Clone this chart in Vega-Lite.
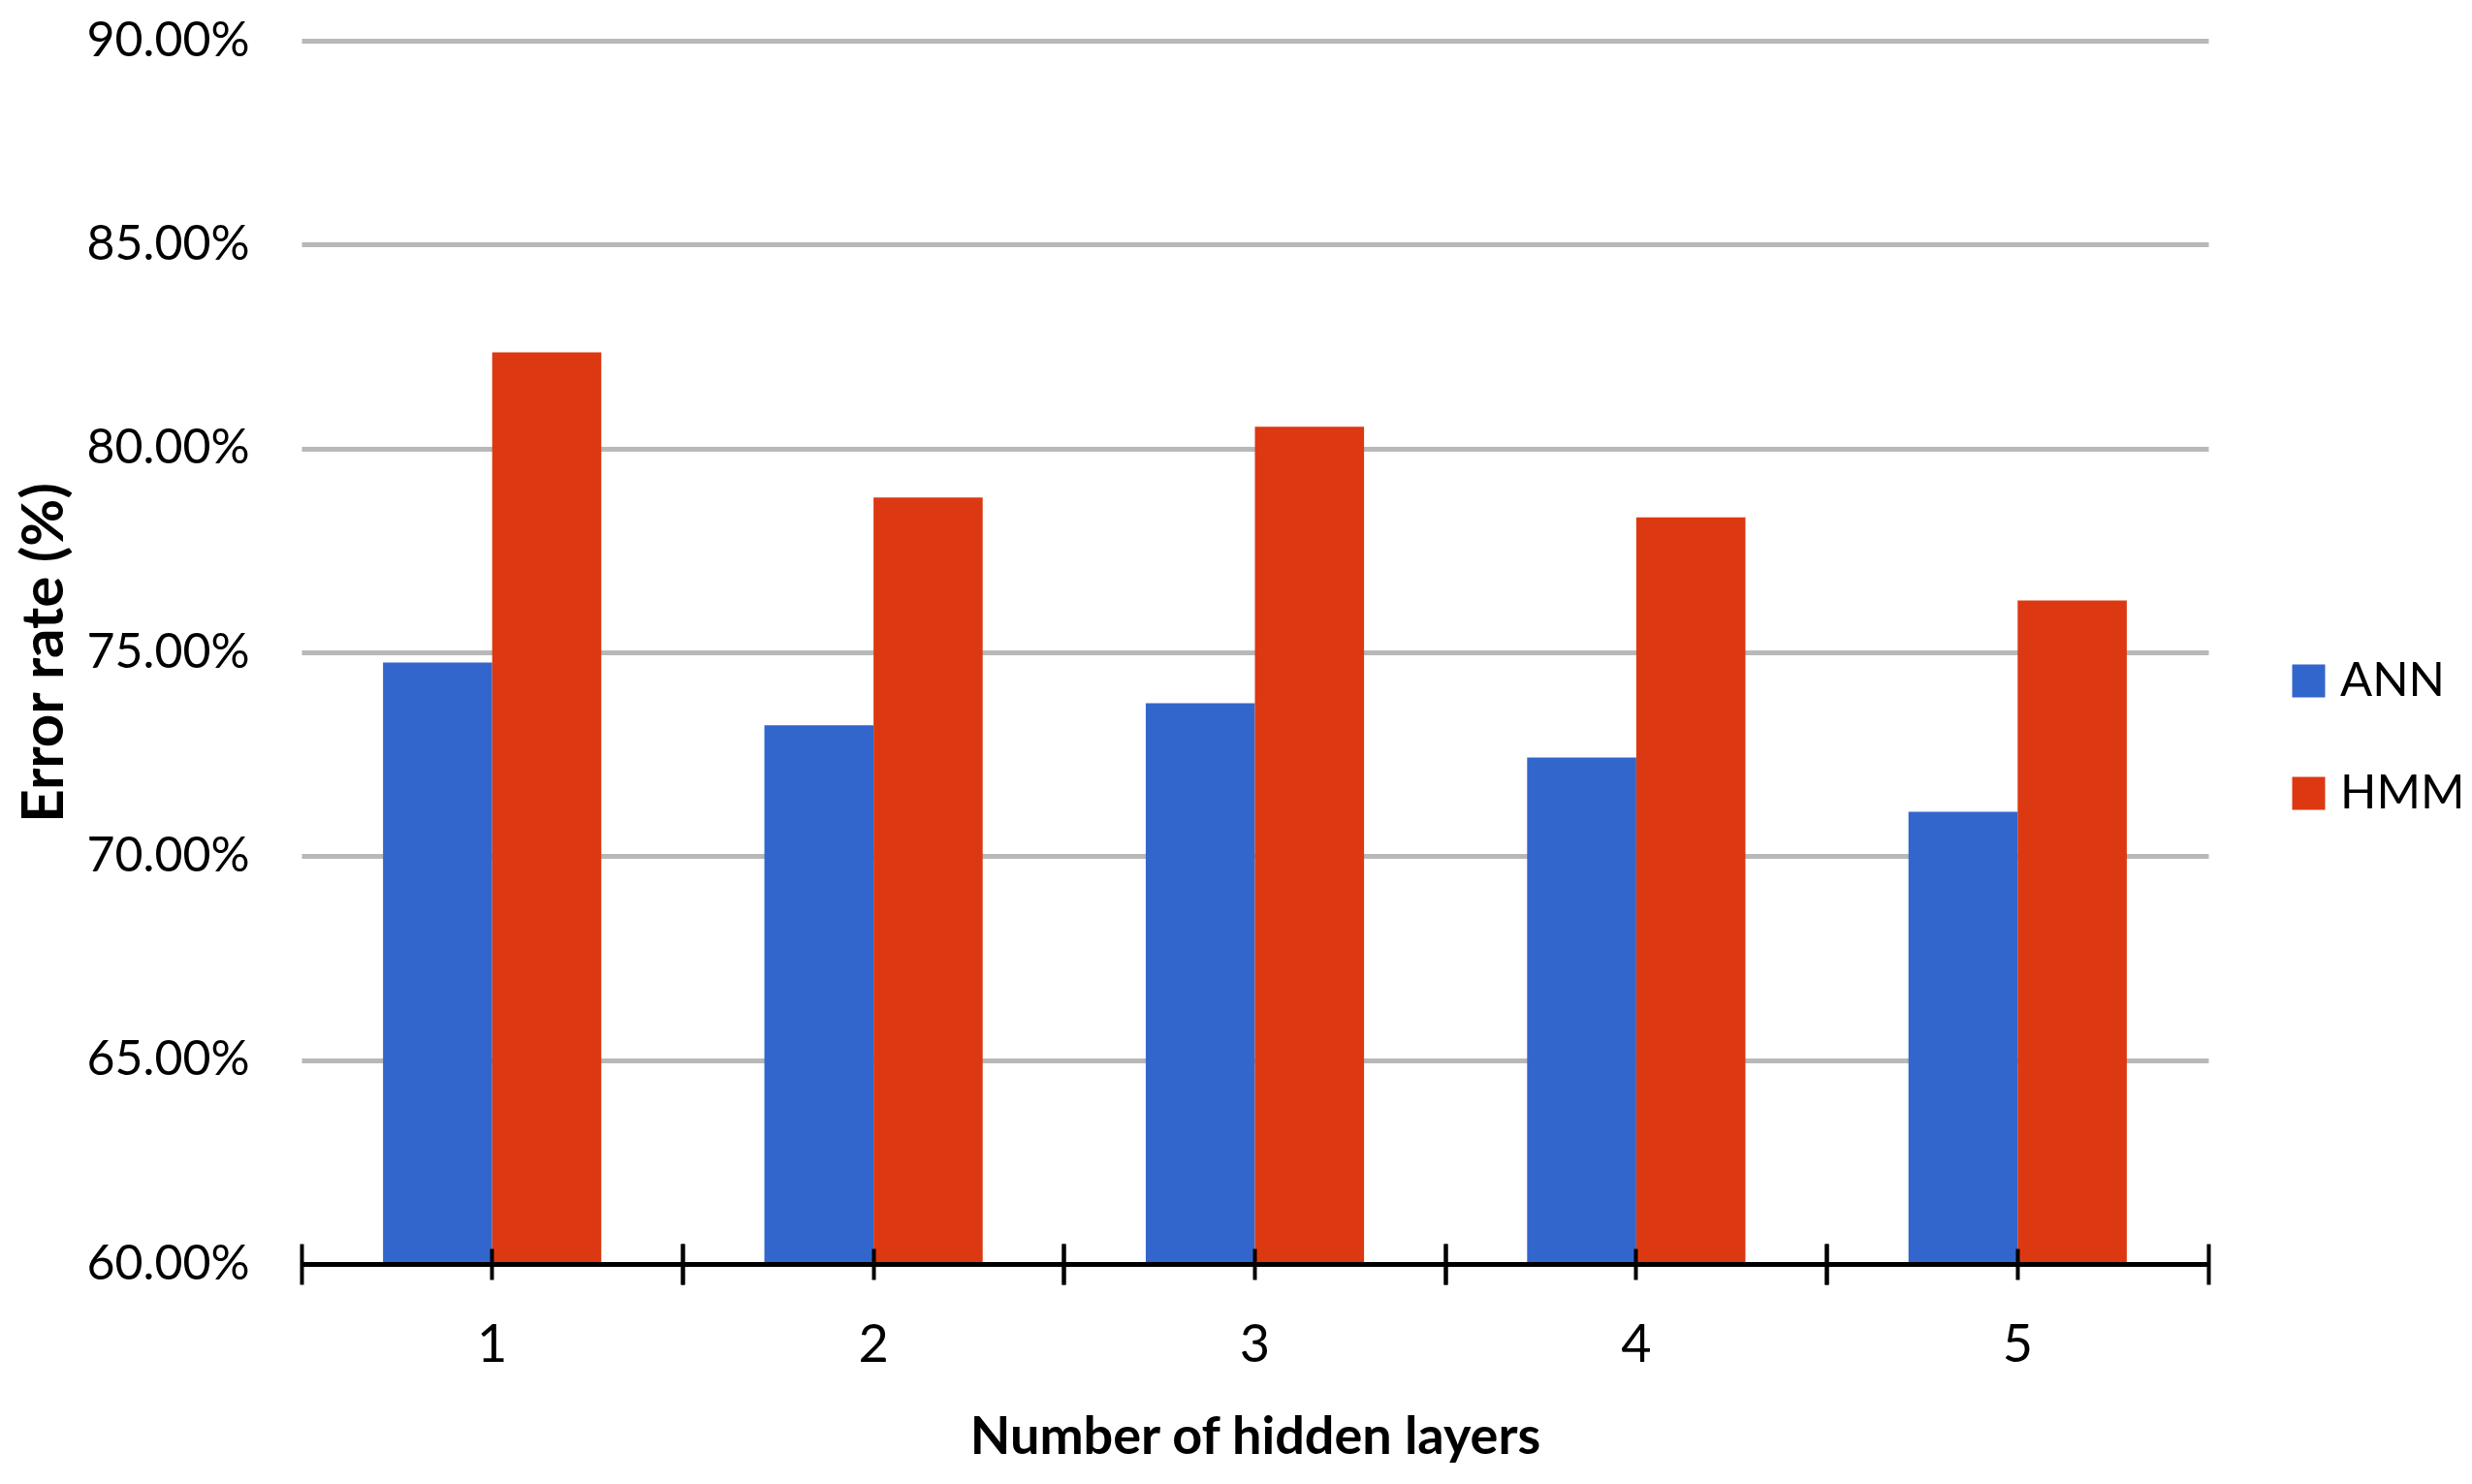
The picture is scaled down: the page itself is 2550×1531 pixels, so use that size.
{
  "$schema": "https://vega.github.io/schema/vega-lite/v6.json",
  "width": 1967,
  "height": 1262,
  "autosize": {"type": "none"},
  "padding": {"left": 311, "top": 42, "right": 272, "bottom": 227},
  "background": "white",
  "config": {"font": "Lato", "view": {"stroke": null}},
  "data": {
    "values": [
      {"layers": "1", "model": "ANN", "rate": 0.7475},
      {"layers": "1", "model": "HMM", "rate": 0.8236},
      {"layers": "2", "model": "ANN", "rate": 0.7321},
      {"layers": "2", "model": "HMM", "rate": 0.7880},
      {"layers": "3", "model": "ANN", "rate": 0.7375},
      {"layers": "3", "model": "HMM", "rate": 0.8053},
      {"layers": "4", "model": "ANN", "rate": 0.7242},
      {"layers": "4", "model": "HMM", "rate": 0.7831},
      {"layers": "5", "model": "ANN", "rate": 0.7109},
      {"layers": "5", "model": "HMM", "rate": 0.7627}
    ]
  },
  "layer": [
    {
      "mark": {"type": "bar", "clip": true},
      "encoding": {
        "x": {
          "field": "layers", "type": "ordinal",
          "scale": {"paddingInner": 0, "paddingOuter": 0},
          "axis": {
            "orient": "bottom", "title": "Number of hidden layers", "labelAngle": 0, "zindex": 1,
            "ticks": false, "tickSize": 0, "domain": true, "domainColor": "black", "domainWidth": 5,
            "labelFontSize": 54, "labelColor": "black", "labelPadding": 57, "labelLimit": 0,
            "titleFontSize": 54, "titleFontWeight": "bold", "titleColor": "black", "titlePadding": 41,
            "grid": false
          }
        },
        "xOffset": {"field": "model", "type": "nominal", "scale": {"paddingInner": 0, "paddingOuter": 0.747}},
        "y": {
          "field": "rate", "type": "quantitative",
          "scale": {"domain": [0.6, 0.9], "zero": false, "nice": false},
          "axis": {
            "values": [0.6, 0.65, 0.7, 0.75, 0.8, 0.85, 0.9], "format": ".2%",
            "title": "Error rate (%)", "domain": false, "ticks": false, "tickSize": 0,
            "labelFontSize": 50, "labelColor": "black", "labelPadding": 54, "labelLimit": 0,
            "grid": true, "gridColor": "#b8b8b8", "gridWidth": 5,
            "titleFontSize": 60, "titleFontWeight": "bold", "titleColor": "black", "titlePadding": 34
          }
        },
        "color": {
          "field": "model", "type": "nominal",
          "scale": {"domain": ["ANN", "HMM"], "range": ["#3366CC", "#DC3912"]},
          "legend": {
            "title": null, "orient": "none", "legendX": 2046, "legendY": 636,
            "symbolType": "square", "symbolSize": 1156, "symbolStrokeWidth": 0, "symbolOpacity": 1,
            "labelFontSize": 49, "labelColor": "black", "labelOffset": 8, "rowPadding": 66, "padding": 0, "labelLimit": 0
          }
        }
      }
    },
    {
      "mark": {"type": "bar", "opacity": 0},
      "encoding": {
        "x": {
          "field": "layers", "type": "ordinal",
          "axis": {"orient": "bottom", "bandPosition": 0.5, "offset": -16, "tickSize": 32, "tickWidth": 4, "tickColor": "black", "domain": false, "labels": false, "title": null, "grid": false, "zindex": 1}
        }
      }
    },
    {
      "mark": {"type": "bar", "opacity": 0},
      "encoding": {
        "x": {
          "field": "layers", "type": "ordinal",
          "axis": {"orient": "bottom", "bandPosition": 0, "offset": -21, "tickSize": 42, "tickWidth": 4, "tickColor": "black", "domain": false, "labels": false, "title": null, "grid": false, "zindex": 1}
        }
      }
    },
    {
      "mark": {"type": "bar", "opacity": 0},
      "encoding": {
        "x": {
          "field": "layers", "type": "ordinal",
          "axis": {"orient": "bottom", "bandPosition": 1, "offset": -21, "tickSize": 42, "tickWidth": 4, "tickColor": "black", "domain": false, "labels": false, "title": null, "grid": false, "zindex": 1}
        }
      }
    }
  ],
  "resolve": {"axis": {"x": "independent"}}
}
